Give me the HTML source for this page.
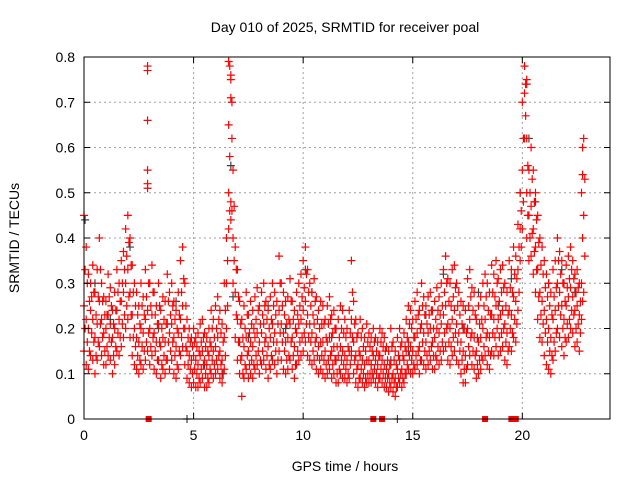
<!DOCTYPE html>
<html><head><meta charset="utf-8"><style>
body{margin:0;background:#fff}
svg text{font-family:"Liberation Sans",sans-serif;font-size:14px;fill:#000}
</style></head><body>
<svg id="chart" width="640" height="480" xmlns="http://www.w3.org/2000/svg">
<rect width="640" height="480" fill="#fff"/>
<text x="345" y="32" text-anchor="middle">Day 010 of 2025, SRMTID for receiver poal</text>
<text x="345" y="471" text-anchor="middle">GPS time / hours</text>
<text transform="translate(19,238) rotate(-90)" text-anchor="middle">SRMTID / TECUs</text>
<g id="grid"></g>
<g id="gray"></g>
<g id="red"></g>
<g id="axes"></g>
</svg>
<script>
const xTicks=[0,5,10,15,20];
const yTicks=[0,0.1,0.2,0.3,0.4,0.5,0.6,0.7,0.8];
const yTickLabels=["0","0.1","0.2","0.3","0.4","0.5","0.6","0.7","0.8"];
const step=0.1;
const hi=[0.45,0.38,0.32,0.30,0.34,0.28,0.33,0.40,0.30,0.27,
0.26,0.32,0.29,0.24,0.28,0.33,0.30,0.35,0.37,0.42,
0.45,0.40,0.34,0.30,0.28,0.25,0.30,0.27,0.33,0.52,
0.30,0.34,0.28,0.25,0.30,0.24,0.27,0.26,0.32,0.28,
0.30,0.26,0.24,0.28,0.35,0.38,0.30,0.22,0.20,0.18,
0.20,0.18,0.19,0.21,0.22,0.19,0.18,0.20,0.24,0.22,
0.25,0.27,0.24,0.21,0.30,0.40,0.65,0.75,0.55,0.38,
0.33,0.26,0.22,0.25,0.28,0.23,0.26,0.24,0.27,0.29,
0.25,0.28,0.30,0.26,0.24,0.27,0.30,0.28,0.26,0.36,
0.30,0.28,0.26,0.27,0.31,0.26,0.24,0.28,0.30,0.32,
0.35,0.38,0.33,0.30,0.28,0.31,0.27,0.24,0.26,0.25,
0.22,0.25,0.27,0.23,0.24,0.20,0.22,0.25,0.24,0.22,
0.20,0.24,0.35,0.26,0.22,0.19,0.22,0.20,0.18,0.21,
0.19,0.18,0.20,0.18,0.17,0.20,0.19,0.18,0.16,0.15,
0.20,0.17,0.15,0.18,0.20,0.17,0.19,0.22,0.25,0.24,
0.22,0.26,0.28,0.24,0.30,0.27,0.25,0.27,0.28,0.24,
0.26,0.29,0.27,0.30,0.33,0.36,0.31,0.30,0.33,0.34,
0.30,0.28,0.26,0.25,0.24,0.31,0.33,0.29,0.28,0.22,
0.25,0.27,0.30,0.32,0.30,0.28,0.34,0.32,0.35,0.31,
0.33,0.34,0.30,0.28,0.35,0.33,0.38,0.36,0.43,0.50,
0.70,0.78,0.62,0.55,0.60,0.55,0.50,0.45,0.40,0.38,
0.35,0.32,0.30,0.28,0.33,0.35,0.40,0.37,0.35,0.30,
0.34,0.36,0.38,0.35,0.32,0.33,0.30,0.50,0.62];
const q3=[0.33,0.30,0.26,0.27,0.28,0.23,0.27,0.33,0.26,0.23,
0.23,0.27,0.25,0.21,0.24,0.28,0.26,0.30,0.33,0.36,
0.39,0.34,0.28,0.25,0.23,0.21,0.25,0.23,0.27,0.30,
0.25,0.28,0.23,0.21,0.25,0.20,0.22,0.21,0.26,0.23,
0.25,0.22,0.20,0.23,0.28,0.31,0.25,0.18,0.17,0.16,
0.17,0.16,0.15,0.17,0.18,0.16,0.15,0.17,0.20,0.18,
0.20,0.22,0.19,0.17,0.24,0.35,0.58,0.62,0.47,0.33,
0.27,0.21,0.18,0.20,0.23,0.19,0.21,0.20,0.22,0.24,
0.21,0.23,0.25,0.22,0.20,0.22,0.25,0.23,0.21,0.30,
0.25,0.23,0.21,0.22,0.26,0.22,0.20,0.23,0.25,0.27,
0.29,0.32,0.28,0.25,0.23,0.26,0.22,0.20,0.21,0.21,
0.18,0.21,0.22,0.19,0.20,0.16,0.18,0.20,0.19,0.18,
0.16,0.19,0.28,0.21,0.18,0.15,0.18,0.16,0.15,0.17,
0.16,0.15,0.17,0.15,0.14,0.17,0.16,0.15,0.13,0.12,
0.16,0.13,0.12,0.14,0.16,0.14,0.16,0.18,0.21,0.20,
0.18,0.22,0.23,0.20,0.25,0.23,0.21,0.23,0.24,0.20,
0.22,0.24,0.23,0.25,0.28,0.30,0.26,0.25,0.27,0.29,
0.25,0.23,0.21,0.20,0.19,0.25,0.27,0.24,0.23,0.18,
0.21,0.22,0.25,0.27,0.24,0.23,0.28,0.27,0.30,0.26,
0.28,0.29,0.25,0.23,0.29,0.28,0.32,0.31,0.38,0.46,
0.62,0.74,0.56,0.50,0.53,0.48,0.44,0.39,0.34,0.32,
0.29,0.27,0.25,0.23,0.27,0.29,0.35,0.32,0.30,0.26,
0.29,0.31,0.33,0.31,0.28,0.29,0.26,0.40,0.53];
const mid=[0.25,0.22,0.20,0.24,0.22,0.18,0.21,0.26,0.22,0.19,
0.20,0.23,0.21,0.18,0.20,0.24,0.22,0.26,0.28,0.30,
0.33,0.28,0.23,0.20,0.18,0.17,0.20,0.19,0.22,0.24,
0.20,0.23,0.19,0.17,0.21,0.16,0.18,0.17,0.21,0.19,
0.21,0.18,0.16,0.19,0.22,0.25,0.20,0.15,0.14,0.13,
0.14,0.13,0.12,0.14,0.15,0.13,0.12,0.14,0.16,0.15,
0.16,0.18,0.15,0.13,0.18,0.30,0.50,0.48,0.40,0.28,
0.22,0.17,0.14,0.16,0.18,0.15,0.17,0.16,0.18,0.19,
0.17,0.19,0.21,0.18,0.16,0.18,0.21,0.19,0.17,0.24,
0.21,0.19,0.17,0.18,0.21,0.18,0.16,0.19,0.21,0.22,
0.24,0.26,0.23,0.21,0.19,0.21,0.18,0.16,0.17,0.17,
0.15,0.17,0.18,0.15,0.16,0.13,0.14,0.16,0.15,0.14,
0.13,0.15,0.22,0.17,0.14,0.12,0.14,0.13,0.12,0.13,
0.13,0.12,0.14,0.13,0.12,0.14,0.13,0.12,0.11,0.10,
0.12,0.10,0.09,0.11,0.13,0.11,0.13,0.15,0.17,0.16,
0.15,0.18,0.19,0.16,0.21,0.19,0.17,0.19,0.20,0.17,
0.18,0.20,0.19,0.21,0.23,0.25,0.21,0.20,0.22,0.24,
0.21,0.19,0.17,0.15,0.14,0.20,0.22,0.19,0.18,0.15,
0.17,0.18,0.20,0.22,0.19,0.18,0.23,0.22,0.25,0.22,
0.23,0.24,0.21,0.19,0.24,0.23,0.27,0.26,0.33,0.42,
0.55,0.72,0.50,0.45,0.47,0.42,0.38,0.33,0.28,0.26,
0.24,0.22,0.20,0.18,0.22,0.24,0.30,0.28,0.25,0.22,
0.25,0.27,0.29,0.27,0.24,0.25,0.23,0.30,0.45];
const q1=[0.20,0.17,0.15,0.19,0.17,0.14,0.17,0.21,0.18,0.15,
0.16,0.18,0.17,0.14,0.16,0.19,0.18,0.21,0.23,0.25,
0.27,0.23,0.18,0.16,0.14,0.13,0.16,0.15,0.17,0.19,
0.16,0.18,0.15,0.13,0.17,0.12,0.14,0.13,0.17,0.15,
0.17,0.14,0.12,0.15,0.18,0.20,0.16,0.12,0.11,0.10,
0.11,0.10,0.09,0.11,0.12,0.10,0.09,0.11,0.13,0.12,
0.13,0.14,0.12,0.10,0.14,0.25,0.46,0.46,0.35,0.23,
0.17,0.13,0.10,0.12,0.14,0.12,0.13,0.12,0.14,0.15,
0.13,0.15,0.17,0.14,0.12,0.14,0.17,0.15,0.13,0.19,
0.17,0.15,0.13,0.14,0.17,0.14,0.12,0.15,0.17,0.18,
0.19,0.21,0.18,0.17,0.15,0.17,0.14,0.13,0.14,0.13,
0.12,0.13,0.14,0.12,0.13,0.10,0.11,0.13,0.12,0.11,
0.10,0.12,0.18,0.13,0.11,0.09,0.11,0.10,0.09,0.10,
0.10,0.10,0.11,0.10,0.09,0.11,0.10,0.09,0.09,0.08,
0.09,0.08,0.07,0.09,0.10,0.09,0.10,0.12,0.14,0.13,
0.12,0.14,0.15,0.13,0.17,0.15,0.14,0.15,0.16,0.14,
0.14,0.16,0.15,0.17,0.19,0.20,0.17,0.16,0.18,0.19,
0.17,0.15,0.13,0.11,0.11,0.16,0.18,0.15,0.14,0.12,
0.13,0.14,0.16,0.18,0.15,0.14,0.19,0.18,0.20,0.18,
0.19,0.20,0.17,0.15,0.20,0.19,0.22,0.21,0.28,0.38,
0.48,0.67,0.45,0.40,0.41,0.37,0.33,0.27,0.23,0.21,
0.19,0.17,0.15,0.14,0.17,0.19,0.25,0.23,0.20,0.18,
0.21,0.22,0.24,0.23,0.20,0.21,0.19,0.26,0.36];
const lo=[0.15,0.12,0.11,0.14,0.13,0.10,0.13,0.16,0.14,0.12,
0.12,0.14,0.13,0.10,0.12,0.15,0.14,0.16,0.18,0.20,
0.22,0.18,0.14,0.12,0.11,0.10,0.12,0.11,0.13,0.15,
0.12,0.14,0.11,0.10,0.13,0.09,0.11,0.10,0.13,0.11,
0.13,0.10,0.09,0.11,0.14,0.16,0.12,0.09,0.08,0.07,
0.08,0.07,0.07,0.08,0.09,0.07,0.07,0.08,0.10,0.09,
0.10,0.11,0.09,0.08,0.11,0.20,0.42,0.44,0.30,0.18,
0.13,0.10,0.05,0.09,0.11,0.09,0.10,0.09,0.11,0.12,
0.10,0.12,0.13,0.11,0.09,0.11,0.13,0.12,0.10,0.15,
0.13,0.11,0.10,0.11,0.13,0.11,0.09,0.12,0.13,0.14,
0.15,0.17,0.14,0.13,0.12,0.13,0.11,0.10,0.11,0.10,
0.09,0.10,0.11,0.09,0.10,0.08,0.08,0.10,0.09,0.09,
0.08,0.09,0.14,0.10,0.08,0.07,0.09,0.08,0.07,0.08,
0.08,0.08,0.09,0.08,0.07,0.09,0.08,0.07,0.07,0.06,
0.07,0.06,0.05,0.07,0.08,0.07,0.08,0.10,0.11,0.10,
0.10,0.11,0.12,0.10,0.13,0.12,0.11,0.12,0.13,0.11,
0.11,0.13,0.12,0.13,0.15,0.16,0.13,0.12,0.14,0.15,
0.13,0.12,0.10,0.08,0.08,0.12,0.14,0.12,0.11,0.09,
0.10,0.11,0.13,0.14,0.12,0.11,0.15,0.14,0.16,0.14,
0.15,0.16,0.13,0.12,0.16,0.15,0.18,0.17,0.24,0.35,
0.42,0.62,0.40,0.35,0.36,0.32,0.28,0.22,0.18,0.17,
0.14,0.12,0.11,0.10,0.13,0.15,0.20,0.18,0.16,0.14,
0.17,0.18,0.20,0.19,0.16,0.17,0.15,0.22,0.28];
const spikeT=[2.9,2.9,2.9,2.9,2.9,6.6,6.65,6.7,6.7,6.75,20.1,20.2,20.2,22.75,22.75];
const spikeV=[0.78,0.77,0.66,0.55,0.51,0.79,0.78,0.76,0.71,0.70,0.78,0.75,0.74,0.60,0.54];
const grayT=[0.05,0.5,1.2,2.1,3.4,4.2,5.5,6.3,6.7,6.8,7.5,8.4,9.2,10.1,10.4,11.3,12.2,13.1,14.0,14.8,15.6,16.4,17.3,18.0,18.9,19.5,19.9,20.3,20.6,21.2,21.8,22.4];
const grayV=[0.44,0.30,0.22,0.38,0.20,0.26,0.12,0.10,0.56,0.27,0.18,0.25,0.20,0.33,0.28,0.18,0.15,0.12,0.13,0.15,0.23,0.32,0.20,0.28,0.25,0.31,0.50,0.62,0.48,0.30,0.33,0.28];
const zeroT=[2.95,13.2,13.6,18.3,19.5,19.7];
const grayZeroT=[4.7,14.3];

const NS="http://www.w3.org/2000/svg";
const X0=84,X1=610,Y0=419,Y1=57,XMAX=24,YMAX=0.8;
const xs=t=>X0+(X1-X0)*t/XMAX;
const ys=v=>Y0-(Y0-Y1)*v/YMAX;
function mk(tag,attrs,parent){const e=document.createElementNS(NS,tag);for(const k in attrs)e.setAttribute(k,attrs[k]);parent.appendChild(e);return e;}
const grid=document.getElementById('grid'),axes=document.getElementById('axes');
const gray=document.getElementById('gray'),red=document.getElementById('red');
xTicks.forEach(t=>{
  if(t>0){const l=mk('line',{x1:xs(t),x2:xs(t),y1:Y0,y2:Y1,stroke:'#a0a0a0','stroke-dasharray':'2,3'},grid);
  
  }
  const tk=mk('path',{d:`M${xs(t)},${Y0}v-6M${xs(t)},${Y1}v6`,stroke:'#000'},axes);
  
  
  const tx=mk('text',{x:xs(t),y:Y0+21,'text-anchor':'middle'},axes);tx.textContent=t;
  
  
});
yTicks.forEach((v,i)=>{
  if(v>0&&v<YMAX){const l=mk('line',{x1:X0,x2:X1,y1:ys(v),y2:ys(v),stroke:'#a0a0a0','stroke-dasharray':'2,3'},grid);
  
  }
  const tk=mk('path',{d:`M${X0},${ys(v)}h6M${X1},${ys(v)}h-6`,stroke:'#000'},axes);
  
  
  const tx=mk('text',{x:X0-9,y:ys(v)+5,'text-anchor':'end'},axes);tx.textContent=yTickLabels[i];
  
  
});
const fr=mk('rect',{x:X0,y:Y1,width:X1-X0,height:Y0-Y1,fill:'none',stroke:'#000'},axes);


function plus(t,v,col,parent){
  const x=xs(t),y=ys(v);
  const p=mk('path',{d:`M${x-4},${y}h8M${x},${y-4}v8`,stroke:col,'stroke-width':1.2},parent);
  
  
}
grayT.forEach((t,i)=>plus(t,grayV[i],'#404040',gray));
grayZeroT.forEach(t=>plus(t,0,'#404040',gray));
[hi,mid,lo].forEach(arr=>arr.forEach((v,i)=>plus(i*step,v,'#ff0000',red)));
[q3,q1].forEach(arr=>arr.forEach((v,i)=>plus(i*step+step/2,v,'#ff0000',red)));
spikeT.forEach((t,i)=>plus(t,spikeV[i],'#ff0000',red));
zeroT.forEach(t=>{
  const r=mk('rect',{x:xs(t)-3,y:Y0-3,width:6,height:6,fill:'#ff0000'},red);
  
  
});
</script>
</body></html>
